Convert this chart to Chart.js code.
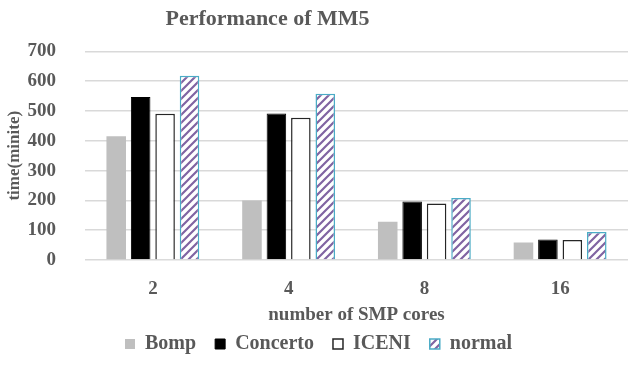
<!DOCTYPE html>
<html>
<head>
<meta charset="utf-8">
<script src="https://cdn.jsdelivr.net/npm/chart.js@4.4.0/dist/chart.umd.min.js"></script>
<style>
  body { margin: 0; background: #fff; }
  #wrap { width: 628px; height: 365px; }
</style>
</head>
<body>
<div id="wrap"><canvas id="graphCanvas" width="628" height="365"></canvas></div>
<script>
var cores = ['2', '4', '8', '16'];
var bomp = [415, 200, 128, 59];
var concerto = [547, 492, 196, 69];
var iceni = [491, 477, 190, 67];
var normal = [618, 558, 208, 94];
var yTicks = [0, 100, 200, 300, 400, 500, 600, 700];

var txt = '#595959';
var serif = "'Liberation Serif', 'Times New Roman', serif";

function stripes() {
    var c = document.createElement('canvas');
    c.width = 8; c.height = 8;
    var g = c.getContext('2d');
    g.fillStyle = '#fff';
    g.fillRect(0, 0, 8, 8);
    g.strokeStyle = '#8064a2';
    g.lineWidth = 2.2;
    g.beginPath();
    g.moveTo(-2, 10); g.lineTo(10, -2);
    g.moveTo(-6, 6); g.lineTo(6, -6);
    g.moveTo(2, 14); g.lineTo(14, 2);
    g.stroke();
    return g.createPattern(c, 'repeat');
}

// the original title sits left of centre, so narrow the title box
var titleShift = {
    id: 'titleShift',
    afterLayout: function(chart) {
        var t = chart.titleBlock;
        if (t) { t.left = 0; t.right = 535; t.width = 535; }
    }
};

var ctx = document.getElementById('graphCanvas').getContext('2d');
var hatch = stripes();

new Chart(ctx, {
    type: 'bar',
    data: {
        labels: cores,
        datasets: [
            { label: 'Bomp', data: bomp, backgroundColor: '#bfbfbf', borderWidth: 0 },
            { label: 'Concerto', data: concerto, backgroundColor: '#000', borderColor: '#000', borderWidth: 1 },
            { label: 'ICENI', data: iceni, backgroundColor: '#fff', borderColor: '#262626', borderWidth: 1.5 },
            { label: 'normal', data: normal, backgroundColor: hatch, borderColor: '#4bacc6', borderWidth: 1.5 }
        ]
    },
    plugins: [titleShift],
    options: {
        responsive: false,
        animation: false,
        categoryPercentage: 0.72,
        barPercentage: 0.8,
        layout: { padding: { left: 4, right: -5, top: 4, bottom: 1 } },
        plugins: {
            title: {
                display: true,
                text: 'Performance of MM5',
                color: txt,
                font: { family: serif, size: 22, weight: 'bold' },
                padding: { top: 2, bottom: 19 }
            },
            legend: {
                position: 'bottom',
                labels: {
                    color: txt,
                    font: { family: serif, size: 20, weight: 'bold' },
                    boxWidth: 10,
                    boxHeight: 10,
                    padding: 19
                }
            },
            tooltip: { enabled: false }
        },
        scales: {
            x: {
                afterFit: function(scale) { scale.height = 55; },
                grid: { display: false },
                border: { display: false },
                ticks: { color: txt, font: { family: serif, size: 19, weight: 'bold' }, padding: 10 },
                title: {
                    display: true,
                    text: 'number of SMP cores',
                    color: txt,
                    font: { family: serif, size: 19, weight: 'bold' },
                    padding: { top: 0, bottom: -11 }
                }
            },
            y: {
                min: 0,
                max: 700,
                afterFit: function(scale) { scale.width = 81; },
                afterBuildTicks: function(scale) {
                    scale.ticks = yTicks.map(function(v) { return { value: v }; });
                },
                grid: { color: '#d9d9d9', lineWidth: 1.5, drawTicks: false },
                border: { display: false },
                ticks: { color: txt, font: { family: serif, size: 19, weight: 'bold' }, padding: 29 },
                title: {
                    display: true,
                    text: 'time(minite)',
                    color: txt,
                    font: { family: serif, size: 17, weight: 'bold' },
                    padding: { top: 0, bottom: 0 }
                }
            }
        }
    }
});
</script>
</body>
</html>
